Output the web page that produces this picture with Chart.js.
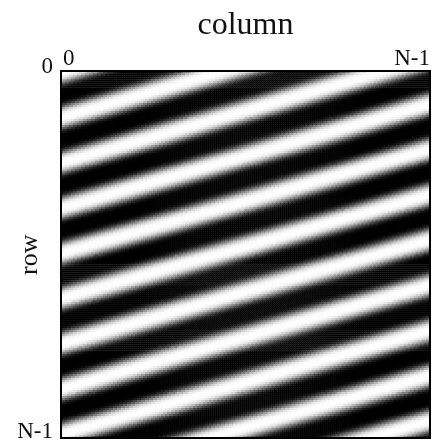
<!DOCTYPE html>
<html>
<head>
<meta charset="utf-8">
<script src="https://cdn.jsdelivr.net/npm/chart.js@4/dist/chart.umd.min.js"></script>
<style>
  html, body { margin: 0; background: #fff; }
  #wrap { position: relative; width: 438px; height: 445px; }
</style>
</head>
<body>
<div id="wrap"><canvas id="grating"></canvas></div>
<script>
// N x N grating image, drawn as square cells on a scatter chart
const gridSize = 184;
const tickLabels = ['0', 'N-1'];
const axisTitles = ['column', 'row'];
// stripe cycles across the columns and down the rows
const stripeCycles = [2.3, 8.1];
// grey level over one stripe period, starting on a white crest
const greyProfile = [
  255, 254, 252, 248, 240, 228, 210, 185, 155, 125, 95, 65, 42, 24, 12, 5, 1, 0, 0, 0,
  0, 0, 0, 0, 1, 5, 12, 24, 42, 65, 95, 125, 155, 185, 210, 228, 240, 248, 252, 254
];

const cells = [];
const cellColors = [];
for (let r = 0; r < gridSize; r++) {
  for (let c = 0; c < gridSize; c++) {
    const phase = (c * stripeCycles[0] + r * stripeCycles[1]) / gridSize;
    const i = Math.round((phase % 1) * greyProfile.length) % greyProfile.length;
    const g = greyProfile[i];
    cells.push({ x: c, y: r });
    cellColors.push('rgb(' + g + ',' + g + ',' + g + ')');
  }
}

const serif = 'Liberation Serif';
const edgeTicks = s => { s.ticks = [{ value: 0 }, { value: gridSize - 1 }]; };
const cellRadius = ctx => {
  const a = ctx.chart.chartArea;
  return a ? (a.right - a.left) / gridSize / Math.SQRT2 * 1.2 : 2;
};
const frame = { display: true, color: '#000', width: 2, z: 1 };

new Chart(document.getElementById('grating'), {
  type: 'scatter',
  data: {
    datasets: [{
      data: cells,
      backgroundColor: cellColors,
      borderWidth: 0,
      pointStyle: 'rect',
      pointRadius: cellRadius,
      pointHoverRadius: cellRadius
    }]
  },
  options: {
    responsive: true,
    maintainAspectRatio: false,
    animation: false,
    events: [],
    layout: { padding: { top: 4, right: 8, bottom: 7, left: 0 } },
    plugins: { legend: { display: false }, tooltip: { enabled: false } },
    scales: {
      x: {
        type: 'linear', position: 'top', min: -0.5, max: gridSize - 0.5,
        afterBuildTicks: edgeTicks,
        ticks: {
          callback: (v, i) => tickLabels[i],
          align: 'inner', padding: 1, labelOffset: 1, maxRotation: 0, autoSkip: false,
          color: '#111', font: { family: serif, size: 23, lineHeight: 1 }
        },
        grid: { display: false, drawTicks: false },
        border: frame,
        title: {
          display: true, text: axisTitles[0], color: '#111',
          font: { family: serif, size: 32 }, padding: { top: 2, bottom: 2 }
        }
      },
      y: {
        type: 'linear', position: 'left', reverse: true, min: -0.5, max: gridSize - 0.5,
        afterBuildTicks: edgeTicks,
        ticks: {
          callback: (v, i) => tickLabels[i],
          padding: 0, labelOffset: -5, autoSkip: false,
          color: '#111', font: { family: serif, size: 23, lineHeight: 0.5 }
        },
        grid: { display: false, drawTicks: true, tickLength: 8 },
        border: frame,
        title: {
          display: true, text: axisTitles[1], color: '#111',
          font: { family: serif, size: 26 }, padding: { top: 15, bottom: -29 }
        }
      },
      x2: {
        type: 'linear', position: 'bottom', min: -0.5, max: gridSize - 0.5,
        ticks: { display: false },
        grid: { display: false, drawTicks: false },
        border: frame
      },
      y2: {
        type: 'linear', position: 'right', min: -0.5, max: gridSize - 0.5,
        ticks: { display: false },
        grid: { display: false, drawTicks: false },
        border: frame
      }
    }
  }
});
</script>
</body>
</html>
